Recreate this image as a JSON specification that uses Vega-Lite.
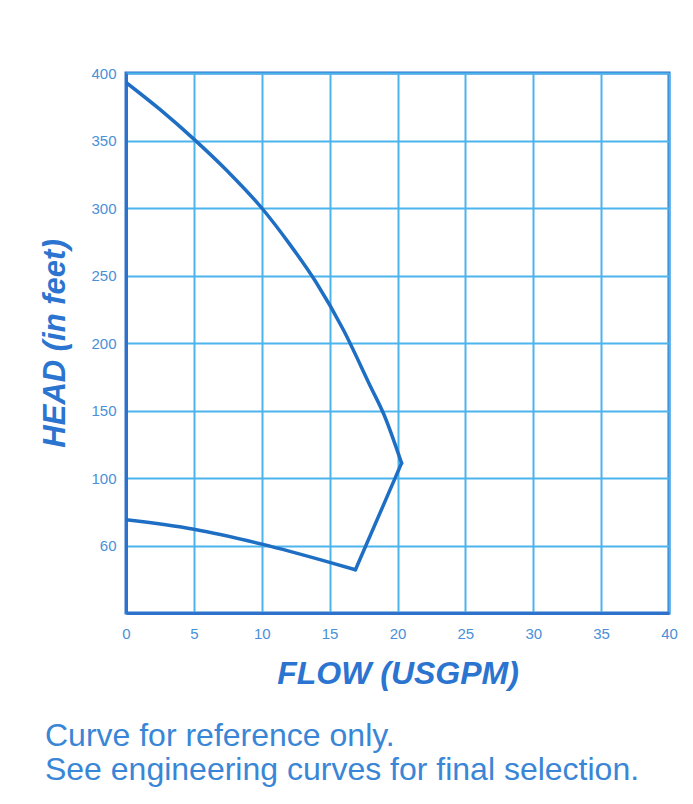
{
  "$schema": "https://vega.github.io/schema/vega-lite/v6.json",
  "width": 543,
  "height": 540,
  "autosize": {"type": "none"},
  "padding": {"left": 126, "top": 73, "right": 24, "bottom": 191},
  "background": "white",
  "config": {
    "view": {"stroke": "#2f72cc", "strokeWidth": 3},
    "font": "Liberation Sans"
  },
  "title": {
    "text": ["Curve for reference only.", "See engineering curves for final selection."],
    "orient": "bottom",
    "anchor": "start",
    "frame": "bounds",
    "font": "Liberation Sans",
    "fontSize": 32,
    "fontWeight": "normal",
    "lineHeight": 34,
    "color": "#3a86d6",
    "offset": 32,
    "dx": 5
  },
  "data": {
    "values": [
      {"part": "upper", "seg": 1, "flow": 0, "head": 393},
      {"part": "upper", "seg": 2, "flow": 2.5, "head": 373},
      {"part": "upper", "seg": 3, "flow": 5, "head": 351},
      {"part": "upper", "seg": 4, "flow": 7.5, "head": 327},
      {"part": "upper", "seg": 5, "flow": 10, "head": 300},
      {"part": "upper", "seg": 6, "flow": 12, "head": 274},
      {"part": "upper", "seg": 7, "flow": 14, "head": 245},
      {"part": "upper", "seg": 8, "flow": 16, "head": 210},
      {"part": "upper", "seg": 9, "flow": 18, "head": 168},
      {"part": "upper", "seg": 10, "flow": 19, "head": 147},
      {"part": "upper", "seg": 11, "flow": 20.3, "head": 111},
      {"part": "drop", "seg": 11, "flow": 20.3, "head": 111},
      {"part": "drop", "seg": 12, "flow": 16.9, "head": 32},
      {"part": "lower", "seg": 12, "flow": 16.9, "head": 32},
      {"part": "lower", "seg": 13, "flow": 15, "head": 37.5},
      {"part": "lower", "seg": 14, "flow": 10, "head": 51},
      {"part": "lower", "seg": 15, "flow": 5, "head": 62},
      {"part": "lower", "seg": 16, "flow": 0, "head": 69}
    ]
  },
  "mark": {"type": "line", "color": "#1e6ec4", "strokeWidth": 3.5, "strokeCap": "round", "strokeJoin": "round", "interpolate": "monotone", "clip": true},
  "encoding": {
    "detail": {"field": "part", "type": "nominal"},
    "order": {"field": "seg", "type": "quantitative"},
    "x": {
      "field": "flow",
      "type": "quantitative",
      "scale": {"domain": [0, 40], "nice": false, "zero": true},
      "axis": {
        "title": "FLOW (USGPM)",
        "values": [0, 5, 10, 15, 20, 25, 30, 35, 40],
        "grid": true,
        "gridColor": "#4cb4ec",
        "gridWidth": 2,
        "gridOpacity": 1,
        "domainColor": "#2f72cc",
        "domainWidth": 3,
        "ticks": false,
        "labelFlush": false,
        "labelPadding": 13,
        "labelFont": "Liberation Sans",
        "labelFontSize": 15,
        "labelColor": "#4a90d8",
        "titleFont": "Liberation Sans",
        "titleFontSize": 32,
        "titleFontWeight": "bold",
        "titleFontStyle": "italic",
        "titleColor": "#2b74d0",
        "titlePadding": 17
      }
    },
    "y": {
      "field": "head",
      "type": "quantitative",
      "scale": {"domain": [0, 400], "nice": false},
      "axis": {
        "title": "HEAD (in feet)",
        "values": [0, 50, 100, 150, 200, 250, 300, 350, 400],
        "labelExpr": "datum.value == 0 ? '' : datum.value == 50 ? '60' : datum.label",
        "grid": true,
        "gridColor": "#4cb4ec",
        "gridWidth": 2,
        "gridOpacity": 1,
        "domainColor": "#2f72cc",
        "domainWidth": 3,
        "ticks": false,
        "labelFlush": false,
        "labelOverlap": false,
        "labelPadding": 10,
        "labelFont": "Liberation Sans",
        "labelFontSize": 15,
        "labelColor": "#4a90d8",
        "titleFont": "Liberation Sans",
        "titleFontSize": 31,
        "titleFontWeight": "bold",
        "titleFontStyle": "italic",
        "titleColor": "#2b74d0",
        "titlePadding": 19
      }
    }
  }
}
